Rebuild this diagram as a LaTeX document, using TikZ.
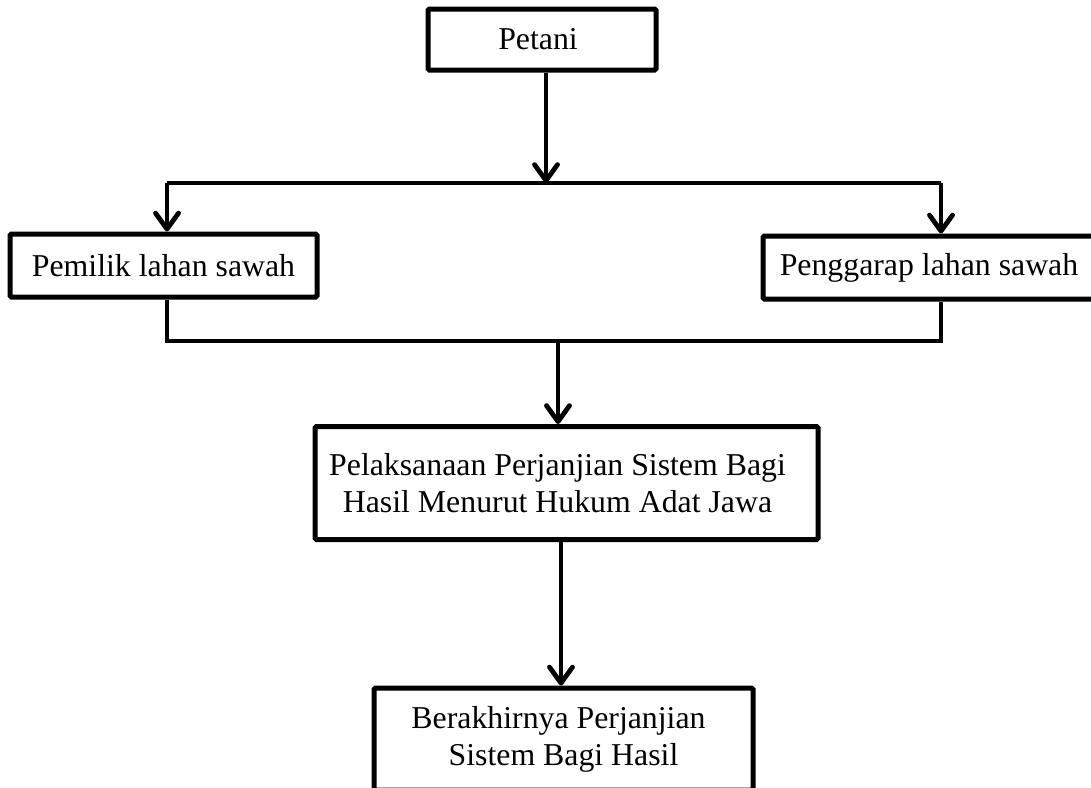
\documentclass[tikz,border=0pt]{standalone}
\usepackage{fontspec}
\setmainfont{Liberation Serif}
\usetikzlibrary{arrows.meta}
\begin{document}
\begin{tikzpicture}[x=1pt,y=-1pt,
  box/.style={draw=black,line width=5pt,rounded corners=1.5pt,fill=white,inner sep=0pt,
    font=\fontsize{31.8}{37}\selectfont,align=center},
  conn/.style={draw=black,line width=4.8pt},
  arr/.style={conn,-{Straight Barb[length=16pt,width=23pt,line join=round,line cap=round]}},
]
\useasboundingbox (0,0) rectangle (1091,787);
\clip (0,0) rectangle (1091,787);
\fill[white] (0,0) rectangle (1091,787);

\node[box,minimum width=228pt,minimum height=61pt] (petani) at (542,39.5) {Petani\hspace*{8pt}};
\node[box,minimum width=307pt,minimum height=63pt] (left) at (163.5,265.5) {Pemilik lahan sawah};
\node[box,minimum width=332pt,minimum height=63pt] (right) at (929,267.5) {Penggarap lahan sawah};
\node[box,minimum width=503pt,minimum height=113pt] (mid) at (566.5,483)
  {Pelaksanaan Perjanjian Sistem Bagi\hspace*{18pt}\\Hasil Menurut Hukum Adat Jawa\hspace*{18pt}};
\node[box,minimum width=379pt,minimum height=102pt] (bot) at (563.5,739)
  {Berakhirnya Perjanjian\hspace*{10pt}\\Sistem Bagi Hasil};

\coordinate (j1) at (546,183);
\coordinate (jl) at (167,183);
\coordinate (jr) at (941,183);
\coordinate (k1) at (558,341);
\coordinate (kl) at (167,341);
\coordinate (kr) at (941,341);
\coordinate (m1) at (561,541);

\draw[arr] (j1 |- petani.south) -- (j1);
\draw[conn] (jl) -- (jr);
\draw[arr] (jl) -- (jl |- left.north);
\draw[arr] (jr) -- (jr |- right.north);
\draw[conn] (kl |- left.south) -- (kl) -- (kr) -- (kr |- right.south);
\draw[arr] (k1) -- (k1 |- mid.north);
\draw[arr] (m1 |- mid.south) -- (m1 |- bot.north);
\end{tikzpicture}
\end{document}
